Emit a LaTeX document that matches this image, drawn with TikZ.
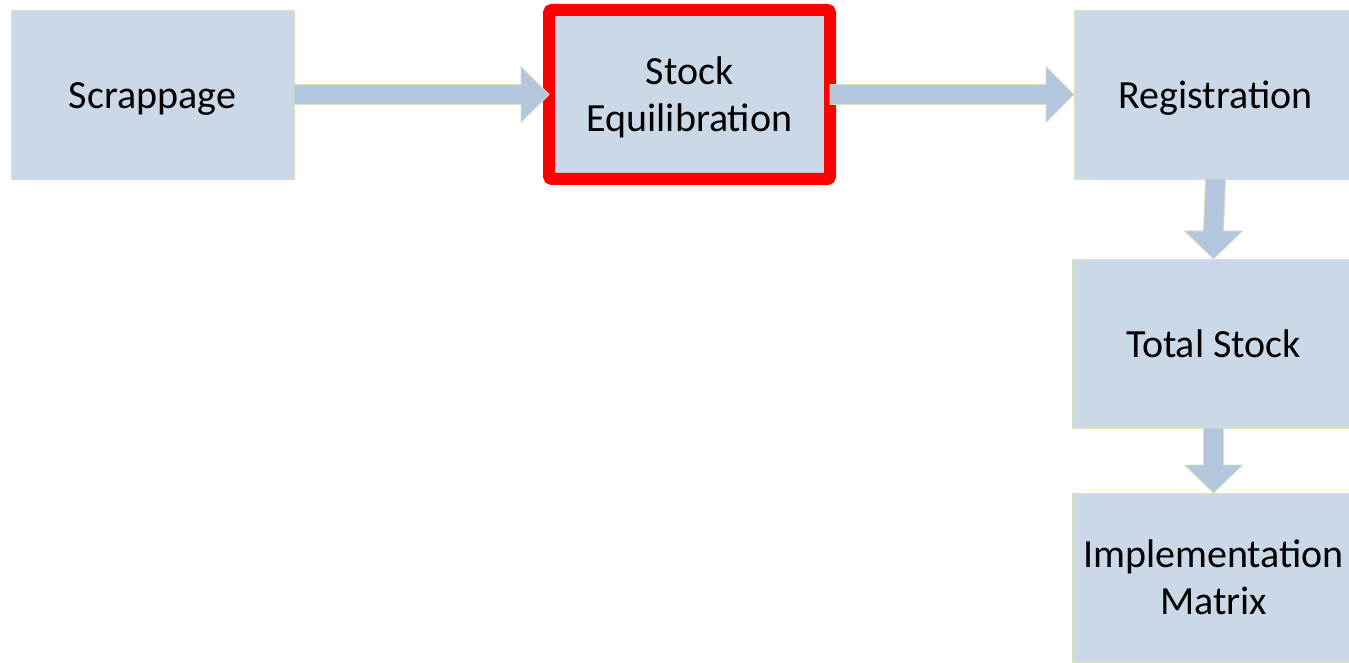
\documentclass[tikz,border=0pt]{standalone}
\usepackage{fontspec}
\setmainfont{Carlito}
\usetikzlibrary{calc}
\definecolor{boxfill}{RGB}{203,216,231}
\definecolor{arrowfill}{RGB}{179,198,221}
\definecolor{edgegreen}{RGB}{214,228,188}
\definecolor{hilite}{RGB}{255,0,0}
\tikzset{
  stagebox/.style={draw=edgegreen, line width=0.9pt, fill=boxfill,
    minimum width=283pt, minimum height=169pt, inner sep=0pt, outer sep=0pt},
  activebox/.style={stagebox, draw=hilite, line width=12pt,
    minimum width=281pt, rounded corners=3pt},
  stagetext/.style={align=center, inner sep=0pt, font=\fontsize{40}{47}\selectfont},
  blockarrow/.style={draw=edgegreen, line width=0.9pt, fill=arrowfill, line join=miter}
}
\begin{document}
\begin{tikzpicture}[x=1pt,y=-1pt]
\useasboundingbox (0,0) rectangle (1349,663);
\fill[white] (0,0) rectangle (1349,663);

% stages
\node[stagebox]  (scrap) at (152.5,94.5)  {};
\node[activebox] (stock) at (689.5,94.5)  {};
\node[stagebox]  (reg)   at (1215.5,94.5) {};
\node[stagebox]  (tot)   at (1213.5,343.5){};
\node[stagebox]  (impl)  at (1213.5,577.5){};

% stage titles
\node[stagetext] (scrap-t) at ($(scrap.center)+(0,4)$) {Scrappage};
\node[stagetext] (stock-t) at ($(stock.center)+(0,3)$) {Stock\\Equilibration};
\node[stagetext] (reg-t)   at ($(reg.center)+(0,4)$)   {Registration};
\node[stagetext] (tot-t)   at (tot.center)             {Total Stock};
\node[stagetext] (impl-t)  at (impl.center)            {Implementation\\Matrix};

% horizontal block arrows
\path[blockarrow] ($(scrap.east)+(0,-10)$) -- ($(stock.west)+(-28,-10)$)
  -- ($(stock.west)+(-28,-28)$) -- (stock.west) -- ($(stock.west)+(-28,28)$)
  -- ($(stock.west)+(-28,10)$) -- ($(scrap.east)+(0,10)$) -- cycle;
\path[blockarrow] ($(stock.east)+(0,-10)$) -- ($(reg.west)+(-28,-10)$)
  -- ($(reg.west)+(-28,-28)$) -- (reg.west) -- ($(reg.west)+(-28,28)$)
  -- ($(reg.west)+(-28,10)$) -- ($(stock.east)+(0,10)$) -- cycle;

% vertical block arrows
\path[blockarrow] ($(reg.south)+(-10,0)$) -- ($(tot.north)+(-10,-28)$)
  -- ($(tot.north)+(-29,-28)$) -- (tot.north) -- ($(tot.north)+(29,-28)$)
  -- ($(tot.north)+(10,-28)$) -- ($(reg.south)+(10,0)$) -- cycle;
\path[blockarrow] ($(tot.south)+(-10,0)$) -- ($(impl.north)+(-10,-28)$)
  -- ($(impl.north)+(-29,-28)$) -- (impl.north) -- ($(impl.north)+(29,-28)$)
  -- ($(impl.north)+(10,-28)$) -- ($(tot.south)+(10,0)$) -- cycle;
\end{tikzpicture}
\end{document}
